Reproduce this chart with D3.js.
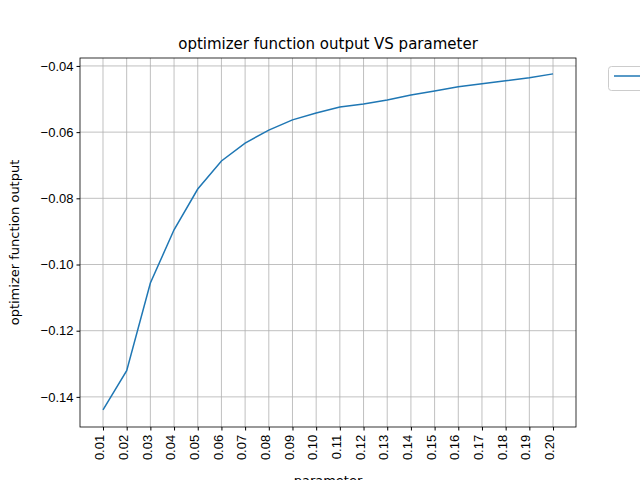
<!DOCTYPE html>
<html><head><meta charset="utf-8">
<script src="https://cdn.jsdelivr.net/npm/d3@7"></script>
<style>body{margin:0;background:#fff}svg{font-family:"DejaVu Sans",sans-serif}</style>
</head><body>
<svg id="c" width="640" height="480"></svg>
<script>
const params=[0.01,0.02,0.03,0.04,0.05,0.06,0.07,0.08,0.09,0.10,0.11,0.12,0.13,0.14,0.15,0.16,0.17,0.18,0.19,0.20];
const outputs=[-0.1439,-0.1321,-0.1056,-0.0895,-0.0772,-0.0687,-0.0633,-0.0594,-0.0563,-0.0542,-0.0524,-0.0515,-0.0503,-0.0488,-0.0476,-0.0463,-0.0454,-0.0445,-0.0436,-0.0424];
const yTicks=[-0.14,-0.12,-0.10,-0.08,-0.06,-0.04];
const svg=d3.select("#c");
const L=80,R=576,T=58,B=427;
const x=d3.scaleLinear().domain([0.00029,0.2097]).range([L,R]);
const y=d3.scaleLinear().domain([-0.1491,-0.0376]).range([B,T]);
const g=svg.append("g");
// grid
g.selectAll(".gx").data(params).enter().append("line").attr("x1",d=>x(d)).attr("x2",d=>x(d)).attr("y1",T).attr("y2",B).attr("stroke","#b0b0b0").attr("stroke-width",0.8);
g.selectAll(".gy").data(yTicks).enter().append("line").attr("y1",d=>y(d)).attr("y2",d=>y(d)).attr("x1",L).attr("x2",R).attr("stroke","#b0b0b0").attr("stroke-width",0.8);
// line
g.append("path").datum(params.map((p,i)=>[p,outputs[i]])).attr("d",d3.line().x(d=>x(d[0])).y(d=>y(d[1]))).attr("fill","none").attr("stroke","#1f77b4").attr("stroke-width",1.5);
// axes
const xa=svg.append("g").attr("transform",`translate(0,${B})`).call(d3.axisBottom(x).tickValues(params).tickFormat(d3.format(".2f")).tickSizeOuter(0).tickSize(3.5));
xa.selectAll("text").attr("transform","rotate(-90)").attr("text-anchor","end").attr("dx","-0.6em").attr("dy","-0.45em").attr("font-size",13).attr("fill","#000");
const ya=svg.append("g").attr("transform",`translate(${L},0)`).call(d3.axisLeft(y).tickValues(yTicks).tickFormat(d=>"\u2212"+Math.abs(d).toFixed(2)).tickSizeOuter(0).tickSize(3.5));
ya.selectAll("text").attr("font-size",13).attr("fill","#000");
svg.selectAll(".domain").remove();
svg.append("rect").attr("x",L).attr("y",T).attr("width",R-L).attr("height",B-T).attr("fill","none").attr("stroke","#000").attr("stroke-width",0.8);
svg.append("text").attr("x",(L+R)/2).attr("y",49).attr("text-anchor","middle").attr("font-size",15).text("optimizer function output VS parameter");
svg.append("text").attr("transform",`translate(19,${(T+B)/2}) rotate(-90)`).attr("text-anchor","middle").attr("font-size",13).text("optimizer function output");
svg.append("text").attr("x",(L+R)/2).attr("y",485).attr("text-anchor","middle").attr("font-size",13).text("parameter");
// legend
svg.append("rect").attr("x",608.5).attr("y",66.5).attr("width",60).attr("height",24).attr("rx",3).attr("fill","#fff").attr("stroke","#ccc");
svg.append("line").attr("x1",614).attr("x2",642).attr("y1",76).attr("y2",76).attr("stroke","#1f77b4").attr("stroke-width",1.5);
</script></body></html>
